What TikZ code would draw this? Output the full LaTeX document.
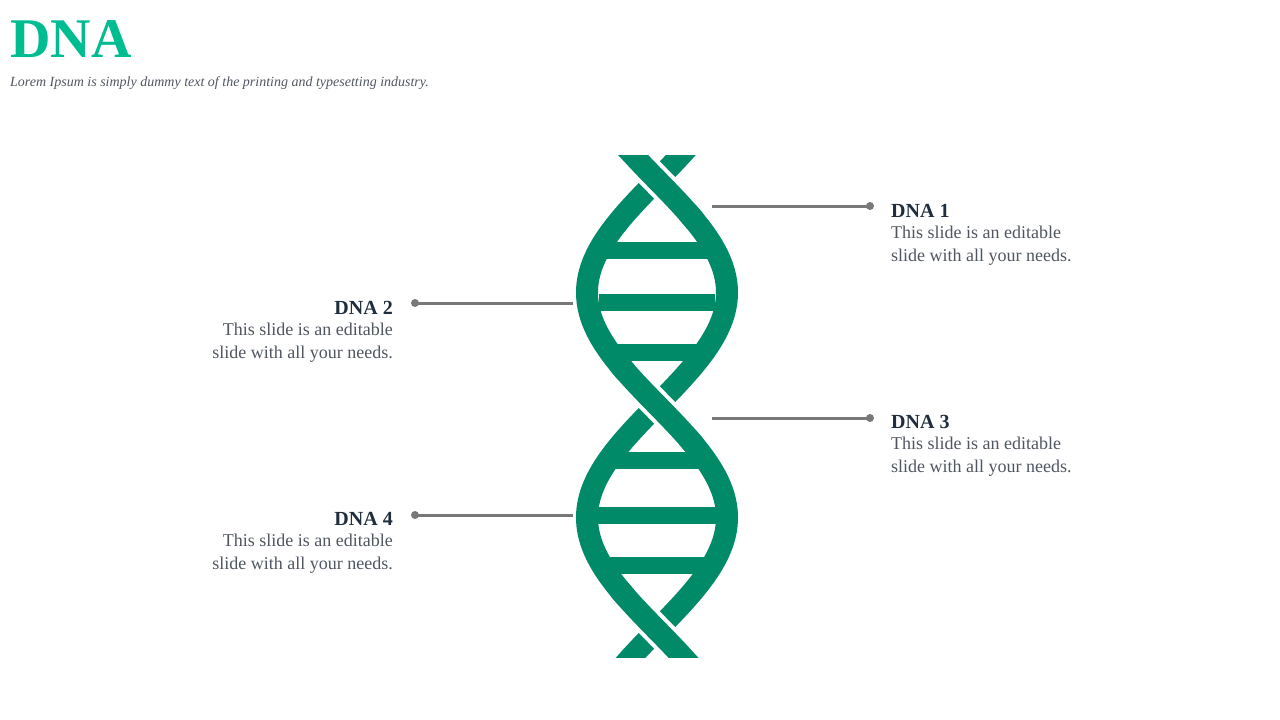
\documentclass[tikz,border=0pt]{standalone}
\usepackage{fontspec}
\setmainfont{Liberation Serif}
\begin{document}
\begin{tikzpicture}[x=1pt,y=-1pt,
  strand/.style={draw=dnag,line width=22pt},
  gap/.style={draw=white,line width=30pt},
  rung/.style={draw=dnag,line width=17pt},
  lead/.style={draw=leadc,line width=3pt},
  ttl/.style={font=\fontsize{20}{24}\selectfont\bfseries,text=navy,inner sep=0},
  body/.style={font=\fontsize{18}{23}\selectfont,text=bodyc,inner sep=0,align=left}]
\definecolor{dnag}{RGB}{0,138,104}
\definecolor{titleg}{RGB}{0,188,145}
\definecolor{navy}{RGB}{31,45,61}
\definecolor{bodyc}{RGB}{80,86,96}
\definecolor{leadc}{RGB}{120,120,120}
\useasboundingbox (0,0) rectangle (1280,720);
\node[anchor=base west,inner sep=0,text=titleg,font=\fontsize{56}{60}\selectfont\bfseries] (title) at (10,57) {DNA};
\node[anchor=base west,inner sep=0,text=bodyc,font=\fontsize{14}{16}\selectfont\itshape] (sub) at (10,86) {Lorem Ipsum is simply dummy text of the printing and typesetting industry.};
\begin{scope}
\clip (500,155) rectangle (800,657);
\foreach \r/\hw in {250/57,302/58,352/42,460/50,515/70,565/56}{
  \draw[rung] ({657-\hw},\r) -- ({657+\hw},\r);
}
\draw[strand] plot[domain=140:680,samples=120,smooth] ({657+70*sin(0.8*(\x-180))},\x);
\draw[strand] plot[domain=140:680,samples=120,smooth] ({657-70*sin(0.8*(\x-180))},\x);
\draw[gap] plot[domain=150:212,samples=30,smooth] ({657+70*sin(0.8*(\x-180))},\x);
\draw[strand] plot[domain=140:222,samples=30,smooth] ({657+70*sin(0.8*(\x-180))},\x);
\draw[gap] plot[domain=373:437,samples=30,smooth] ({657-70*sin(0.8*(\x-180))},\x);
\draw[strand] plot[domain=363:447,samples=30,smooth] ({657-70*sin(0.8*(\x-180))},\x);
\draw[gap] plot[domain=598:662,samples=30,smooth] ({657+70*sin(0.8*(\x-180))},\x);
\draw[strand] plot[domain=588:680,samples=30,smooth] ({657+70*sin(0.8*(\x-180))},\x);
\end{scope}
\coordinate (s1) at (712,206); \coordinate (e1) at (870,206);
\coordinate (s2) at (573,303); \coordinate (e2) at (415,303);
\coordinate (s3) at (712,418); \coordinate (e3) at (870,418);
\coordinate (s4) at (573,515); \coordinate (e4) at (415,515);
\foreach \i in {1,2,3,4}{
  \draw[lead] (s\i) -- (e\i);
  \fill[leadc] (e\i) circle (4);
}
\node[ttl,anchor=base west] (t1) at (891,217) {DNA 1};
\node[body,anchor=north west] (b1) at (891,226) {This slide is an editable\\slide with all your needs.};
\node[ttl,anchor=base west] (t3) at (891,428) {DNA 3};
\node[body,anchor=north west] (b3) at (891,437) {This slide is an editable\\slide with all your needs.};
\node[ttl,anchor=base east] (t2) at (393,314) {DNA 2};
\node[body,anchor=north east,align=right] (b2) at (393,323) {This slide is an editable\\slide with all your needs.};
\node[ttl,anchor=base east] (t4) at (393,525) {DNA 4};
\node[body,anchor=north east,align=right] (b4) at (393,534) {This slide is an editable\\slide with all your needs.};
\end{tikzpicture}
\end{document}
